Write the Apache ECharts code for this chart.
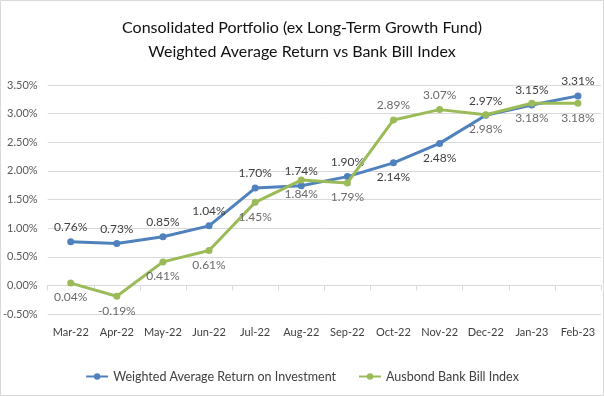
<!DOCTYPE html>
<html><head><meta charset="utf-8">
<script src="https://cdn.jsdelivr.net/npm/echarts@6/dist/echarts.min.js"></script>
<style>html,body{margin:0;padding:0;background:#fff}#c{width:604px;height:396px}</style>
</head><body><div id="c"></div>
<script>
const categories = ['Mar-22','Apr-22','May-22','Jun-22','Jul-22','Aug-22','Sep-22','Oct-22','Nov-22','Dec-22','Jan-23','Feb-23'];
const weightedReturn = [0.76, 0.73, 0.85, 1.04, 1.70, 1.74, 1.90, 2.14, 2.48, 2.97, 3.15, 3.31];
const bankBill = [0.04, -0.19, 0.41, 0.61, 1.45, 1.84, 1.79, 2.89, 3.07, 2.98, 3.18, 3.18];
const blueLabelPos = ['top','top','top','top','top','top','top','bottom','bottom','top','top','top'];
const greenLabelPos = ['bottom','bottom','bottom','bottom','bottom','bottom','bottom','top','top','bottom','bottom','bottom'];
const seriesNames = ['Weighted Average Return on Investment', 'Ausbond Bank Bill Index'];
const titleText = 'Consolidated Portfolio (ex Long-Term Growth Fund)\nWeighted Average Return vs Bank Bill Index';

const FONT = 'Lato';
const chart = echarts.init(document.getElementById('c'), null, {renderer:'canvas'});
const fmt = v => v.toFixed(2) + '%';
function mk(vals, pos) {
  return vals.map((v, i) => ({value: v, label: {position: pos[i]}}));
}
chart.setOption({
  animation: false,
  textStyle: {fontFamily: FONT},
  title: {
    text: titleText, left: 'center', top: 11,
    textStyle: {fontFamily: FONT, fontSize: 16, fontWeight: 'normal', color: '#111', lineHeight: 24}
  },
  graphic: [{type:'rect', shape:{x:0.5,y:0.5,width:603,height:395}, style:{fill:'none', stroke:'#d9d9d9', lineWidth:1}, silent:true}],
  legend: {
    bottom: 8, left: 'center', itemWidth: 22, itemHeight: 8, itemGap: 22,
    textStyle: {fontFamily: FONT, fontSize: 12.5, color: '#404040'},
    data: seriesNames
  },
  grid: {left: 43, right: 3, top: 85, bottom: 82, containLabel: false},
  xAxis: {
    type: 'category', data: categories, boundaryGap: true,
    axisLine: {onZero: true, lineStyle: {color: '#d9d9d9', width: 1}},
    axisTick: {show: true, length: 5, lineStyle: {color: '#d9d9d9'}, alignWithLabel: false},
    axisLabel: {margin: 13, fontFamily: FONT, fontSize: 11, color: '#404040', interval: 0}
  },
  yAxis: {
    type: 'value', min: -0.5, max: 3.5, interval: 0.5,
    axisLine: {show: false}, axisTick: {show: false},
    splitLine: {lineStyle: {color: '#d9d9d9', width: 1}},
    axisLabel: {formatter: fmt, margin: 10, fontFamily: FONT, fontSize: 11, color: '#595959'}
  },
  series: [
    {
      name: seriesNames[0], type: 'line', data: mk(weightedReturn, blueLabelPos),
      symbol: 'circle', symbolSize: 7,
      lineStyle: {color: '#4F81BD', width: 3}, itemStyle: {color: '#4F81BD'},
      label: {show: true, formatter: p => fmt(p.value), fontFamily: FONT, fontSize: 12, color: '#404040', distance: 5},
      z: 3
    },
    {
      name: seriesNames[1], type: 'line', data: mk(bankBill, greenLabelPos),
      symbol: 'circle', symbolSize: 7,
      lineStyle: {color: '#9BBB59', width: 3}, itemStyle: {color: '#9BBB59'},
      label: {show: true, formatter: p => fmt(p.value), fontFamily: FONT, fontSize: 12, color: '#6b6b6b', distance: 5},
      z: 4
    }
  ]
});
</script></body></html>
